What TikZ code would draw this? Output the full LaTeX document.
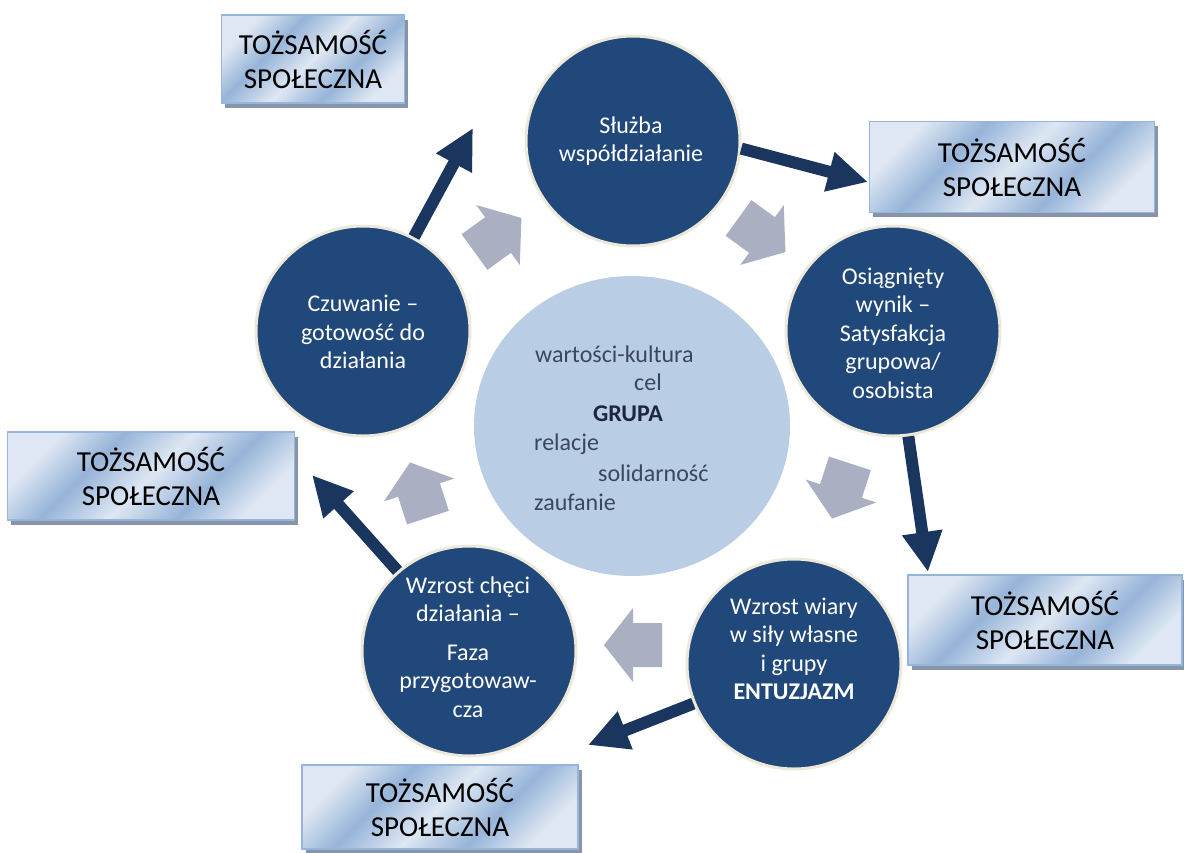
\documentclass[tikz,border=0pt]{standalone}
\usepackage{fontspec}
\setmainfont{Carlito}
\usetikzlibrary{shapes.geometric,arrows.meta,shadows}

\definecolor{phasefill}{RGB}{33,72,122}
\definecolor{rim}{RGB}{236,233,218}
\definecolor{corefill}{RGB}{185,205,228}
\definecolor{coretext}{RGB}{58,70,98}
\definecolor{corebold}{RGB}{28,38,62}
\definecolor{linkblue}{RGB}{26,54,94}
\definecolor{cyclegray}{RGB}{170,176,193}
\definecolor{idlight}{RGB}{222,231,243}
\definecolor{iddark}{RGB}{150,180,216}
\definecolor{idedge}{RGB}{150,181,220}
\definecolor{idshadow}{RGB}{136,148,168}

% diagonal banded fill of the identity boxes
\pgfdeclarehorizontalshading{idshade}{100bp}{color(0bp)=(idlight); color(25bp)=(idlight);
  color(37bp)=(iddark); color(50bp)=(idlight); color(63bp)=(iddark);
  color(75bp)=(idlight); color(100bp)=(idlight)}

\tikzset{
  phase/.style={ellipse, fill=phasefill, draw=rim, line width=3pt,
    minimum width=214pt, minimum height=210pt, inner sep=0pt},
  phasetext/.style={text=white, align=center, inner sep=0pt,
    font=\fontsize{24}{28.5}\selectfont},
  core/.style={ellipse, fill=corefill, minimum width=316pt, minimum height=300pt, inner sep=0pt},
  coreword/.style={anchor=base west, inner sep=0pt, text=coretext,
    font=\fontsize{24}{29}\selectfont},
  identity/.style={rectangle, draw=idedge, line width=1.2pt, shading=idshade, shading angle=-45,
    drop shadow={shadow xshift=3.5pt, shadow yshift=-4.5pt, fill=idshadow, opacity=1},
    align=center, inner sep=0pt, text=black, font=\fontsize{29}{34}\selectfont},
  link/.style={draw=linkblue, line width=12pt, -{Triangle[length=40pt,width=38pt]}},
  cyclearrow/.pic={\fill[cyclegray] (29,0) -- (0,37) -- (0,22) -- (-29,22) -- (-29,-22)
    -- (0,-22) -- (0,-37) -- cycle;}
}

\begin{document}
\begin{tikzpicture}[x=1pt,y=-1pt]
\useasboundingbox (0,0) rectangle (1184,852);

% central group circle
\node[core] (grupa) at (632,426) {};
\node[coreword] (w1) at (535,362) {wartości-kultura};
\node[coreword] (w2) at (634,390) {cel};
\node[coreword, text=corebold, font=\fontsize{24}{29}\selectfont\bfseries] (w3) at (593,421) {GRUPA};
\node[coreword] (w4) at (534,450) {relacje};
\node[coreword] (w5) at (598,481) {solidarność};
\node[coreword] (w6) at (534,510) {zaufanie};

% the five phases
\node[phase] (cT) at (633,141) {};
\node[phase] (cR) at (893,331) {};
\node[phase] (cBR) at (794,664) {};
\node[phase] (cBL) at (469,651) {};
\node[phase] (cL) at (363,331) {};

\node[phasetext] (pT) at (631,141) {Służba\\współdziałanie};
\node[phasetext] (pR) at (893,333) {Osiągnięty\\wynik –\\Satysfakcja\\grupowa/\\osobista};
\node[phasetext] (pBR) at (794,649) {Wzrost wiary\\w siły własne\\i grupy\\\textbf{ENTUZJAZM}};
\node[phasetext] (pBL) at (468,647) {Wzrost chęci\\działania –\\[10pt]Faza\\przygotowaw-\\cza};
\node[phasetext] (pL) at (363,332) {Czuwanie –\\gotowość do\\działania};

% cycle arrows between the phases
\pic[rotate=36] at (498,235) {cyclearrow};
\pic[rotate=-36] at (762,235) {cyclearrow};
\pic[rotate=-108] at (841,491) {cyclearrow};
\pic[rotate=180] at (633,645) {cyclearrow};
\pic[rotate=108] at (419,490) {cyclearrow};

% arrow ends next to the identity boxes
\coordinate (tA) at (473,128);
\coordinate (tB) at (868,182);
\coordinate (tC) at (928,572);
\coordinate (tD) at (588,745);
\coordinate (tE) at (312,475);

\draw[link] (cL) -- (tA);
\draw[link] (cT.-4) -- (tB);
\draw[link] (cR) -- (tC);
\draw[link] (cBR) -- (tD);
\draw[link] (cBL) -- (tE);

% identity boxes
\node[identity, minimum width=183pt, minimum height=88pt] (b1) at (313,59) {TOŻSAMOŚĆ\\SPOŁECZNA};
\node[identity, minimum width=285pt, minimum height=91pt] (b2) at (1012,167) {TOŻSAMOŚĆ\\SPOŁECZNA};
\node[identity, minimum width=287pt, minimum height=88pt] (b3) at (151,476) {TOŻSAMOŚĆ\\SPOŁECZNA};
\node[identity, minimum width=274pt, minimum height=90pt] (b4) at (1045,620) {TOŻSAMOŚĆ\\SPOŁECZNA};
\node[identity, minimum width=276pt, minimum height=84pt] (b5) at (440,807) {TOŻSAMOŚĆ\\SPOŁECZNA};
\end{tikzpicture}
\end{document}
